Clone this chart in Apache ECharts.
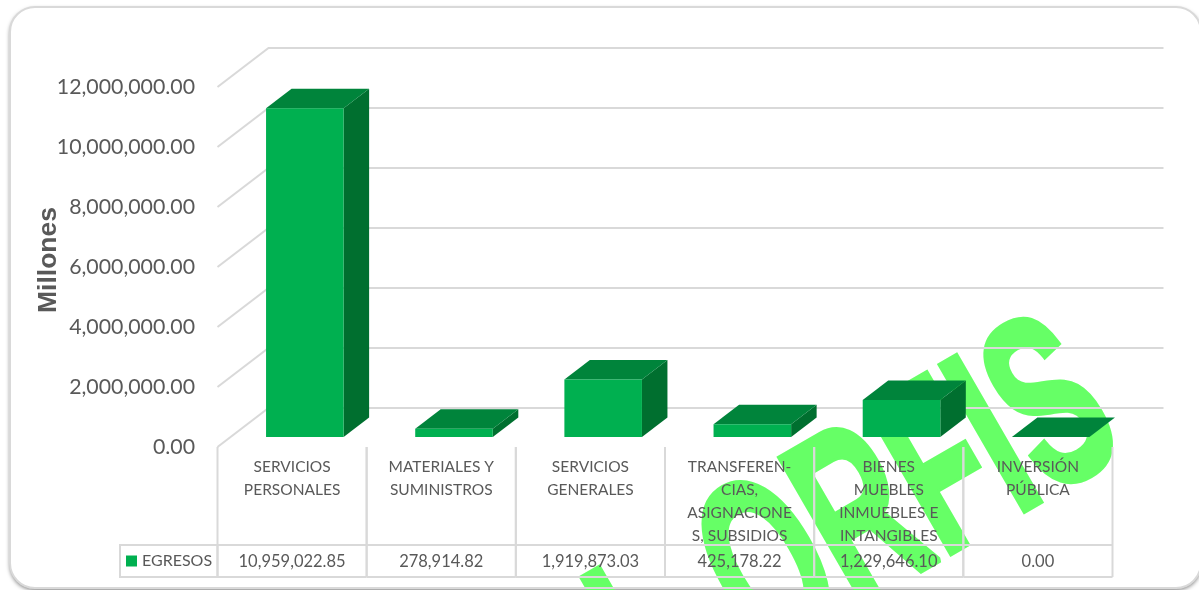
<!DOCTYPE html>
<html lang="es">
<head>
  <meta charset="UTF-8">
  <title>Egresos</title>
  <style>
    html, body { margin: 0; padding: 0; background: #fff; }
    #main { width: 1199px; height: 590px; }
  </style>
</head>
<body>
  <div id="main"></div>

  <script src="https://cdn.jsdelivr.net/npm/echarts@6/dist/echarts.min.js"></script>
  <script>
    const categorias = [
      'SERVICIOS\nPERSONALES',
      'MATERIALES Y\nSUMINISTROS',
      'SERVICIOS\nGENERALES',
      'TRANSFEREN-\nCIAS,\nASIGNACIONE\nS, SUBSIDIOS',
      'BIENES\nMUEBLES\nINMUEBLES E\nINTANGIBLES',
      'INVERSIÓN\nPÚBLICA'
    ];
    const egresos = [10959022.85, 278914.82, 1919873.03, 425178.22, 1229646.10, 0];
    const ticksY = [0, 2000000, 4000000, 6000000, 8000000, 10000000, 12000000];

    const LINEA = '#d9d9d9';
    const TEXTO = '#595959';
    const FUENTE = 'Lato, sans-serif';
    const FONDO = [51, -39];   // profundidad de la pared
    const BARRA = [25.5, -19.5]; // profundidad de cada barra
    const INSET = [12.75, -10];  // la barra no pega con el frente
    const TABLA_H = 545;
    const TABLA_B = 577;

    const dinero = v => v.toLocaleString('en-US', { minimumFractionDigits: 2, maximumFractionDigits: 2 });

    const myChart = echarts.init(document.getElementById('main'));

    const options = {
      animation: false,
      backgroundColor: '#fff',
      grid: { left: 217.5, top: 87, width: 895, height: 360 },
      legend: {
        data: ['EGRESOS'],
        left: 121,
        top: 548,
        padding: 5,
        itemWidth: 11,
        itemHeight: 11,
        itemGap: 5,
        icon: 'rect',
        selectedMode: false,
        textStyle: { color: TEXTO, fontFamily: FUENTE, fontSize: 16 }
      },
      xAxis: {
        type: 'category',
        data: categorias,
        axisLine: { show: false },
        axisTick: { show: false },
        splitLine: { show: false },
        axisLabel: {
          interval: 0,
          margin: 8,
          color: TEXTO,
          fontFamily: FUENTE,
          fontSize: 15.5,
          lineHeight: 23
        }
      },
      yAxis: {
        type: 'value',
        min: 0,
        max: 12000000,
        interval: 2000000,
        name: 'Millones',
        nameLocation: 'middle',
        nameGap: 155,
        nameRotate: 90,
        nameMoveOverlap: false,
        nameTextStyle: {
          color: TEXTO,
          fontFamily: 'Liberation Sans',
          fontWeight: 'bold',
          fontSize: 26.5,
          padding: [0, 0, 0, 14]
        },
        axisLine: { show: false },
        axisTick: { show: false },
        splitLine: { show: false },
        axisLabel: {
          margin: 22.5,
          color: TEXTO,
          fontFamily: FUENTE,
          fontSize: 21.3,
          formatter: v => dinero(v)
        }
      },
      graphic: [
        {
          type: 'rect', z: -30, silent: true,
          shape: { x: 10, y: 7, width: 1191, height: 581, r: 25 },
          style: { fill: '#fff', shadowColor: 'rgba(0,0,0,0.55)', shadowBlur: 4, shadowOffsetX: 0, shadowOffsetY: 2 }
        },
        {
          type: 'text', z: -20, silent: true,
          x: 912, y: 498, rotation: Math.PI / 6, scaleX: 0.57,
          style: {
            text: 'ORFIS',
            fill: '#66ff66',
            stroke: '#66ff66',
            lineWidth: 6,
            font: 'bold 244px "Liberation Sans"',
            align: 'center',
            verticalAlign: 'middle'
          }
        },
        {
          // trazo de la letra anterior, casi fuera de la imagen
          type: 'text', z: -20, silent: true,
          x: 641, y: 660, rotation: Math.PI / 6, scaleX: 0.6,
          style: {
            text: 'I',
            fill: '#66ff66',
            stroke: '#66ff66',
            lineWidth: 6,
            font: 'bold 244px "Liberation Sans"',
            align: 'center',
            verticalAlign: 'middle'
          }
        },
        {
          type: 'rect', z: -10, silent: true,
          shape: { x: 10, y: 7, width: 1191, height: 581, r: 25 },
          style: { fill: 'none', stroke: LINEA, lineWidth: 2 }
        },
        {
          type: 'rect', z: -10, silent: true,
          shape: { x: 120, y: TABLA_H, width: 97.5, height: TABLA_B - TABLA_H },
          style: { fill: 'none', stroke: LINEA, lineWidth: 2 }
        }
      ],
      series: [
        {
          // rejilla en perspectiva: suelo diagonal y pared del fondo
          name: 'rejilla',
          type: 'custom',
          silent: true,
          z: 1,
          data: ticksY.map(v => [0, v]),
          encode: { x: 0, y: 1 },
          renderItem: (params, api) => {
            const y = api.coord([0, api.value(1)])[1];
            const sys = params.coordSys;
            return {
              type: 'polyline',
              shape: { points: [
                [sys.x, y],
                [sys.x + FONDO[0], y + FONDO[1]],
                [sys.x + sys.width + FONDO[0], y + FONDO[1]]
              ] },
              style: { fill: 'none', stroke: LINEA, lineWidth: 2 }
            };
          }
        },
        {
          name: 'EGRESOS',
          type: 'custom',
          z: 3,
          itemStyle: { color: '#00b050' },
          data: egresos.map((v, i) => [i, v]),
          encode: { x: 0, y: 1 },
          renderItem: (params, api) => {
            const top = api.coord([api.value(0), api.value(1)]);
            const base = api.coord([api.value(0), 0]);
            const w = api.size([1, 0])[0] * 0.52;
            const x0 = top[0] + INSET[0] - w / 2;
            const x1 = x0 + w;
            const yt = top[1] + INSET[1];
            const yb = base[1] + INSET[1];
            const dx = BARRA[0];
            const dy = BARRA[1];
            return {
              type: 'group',
              children: [
                { type: 'polygon', shape: { points: [[x1, yt], [x1 + dx, yt + dy], [x1 + dx, yb + dy], [x1, yb]] }, style: { fill: '#006f2f' } },
                { type: 'polygon', shape: { points: [[x0, yt], [x0 + dx, yt + dy], [x1 + dx, yt + dy], [x1, yt]] }, style: { fill: '#00843b' } },
                { type: 'rect', shape: { x: x0, y: yt, width: w, height: yb - yt }, style: { fill: '#00b050' } }
              ]
            };
          }
        },
        {
          // tabla de datos bajo el eje
          name: 'tabla',
          type: 'custom',
          silent: true,
          z: 1,
          data: egresos.map((v, i) => [i, v]),
          encode: { x: 0, y: 1 },
          renderItem: (params, api) => {
            const c = api.coord([api.value(0), 0]);
            const w = api.size([1, 0])[0];
            const x0 = c[0] - w / 2;
            const x1 = c[0] + w / 2;
            const linea = pts => ({ type: 'polyline', shape: { points: pts }, style: { fill: 'none', stroke: LINEA, lineWidth: 2 } });
            return {
              type: 'group',
              children: [
                linea([[x0, c[1]], [x0, TABLA_B]]),
                linea([[x1, c[1]], [x1, TABLA_B]]),
                linea([[x0, TABLA_H], [x1, TABLA_H]]),
                linea([[x0, TABLA_B], [x1, TABLA_B]]),
                {
                  type: 'text',
                  style: {
                    x: c[0], y: (TABLA_H + TABLA_B) / 2 + 1,
                    text: dinero(api.value(1)),
                    fill: TEXTO,
                    font: '16.5px ' + FUENTE,
                    align: 'center',
                    verticalAlign: 'middle'
                  }
                }
              ]
            };
          }
        }
      ]
    };

    myChart.setOption(options);
  </script>
</body>
</html>
